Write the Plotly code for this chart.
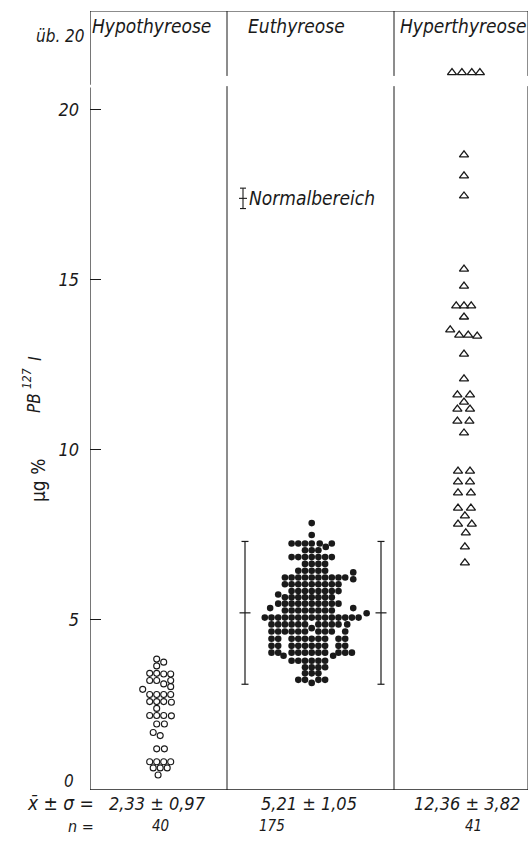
import plotly.graph_objects as go

# ---------------- data ----------------
groups = ["Hypothyreose", "Euthyreose", "Hyperthyreose"]
means = [2.33, 5.21, 12.36]
sds = [0.97, 1.05, 3.82]
stat_labels = ["2,33 \u00b1 0,97", "5,21 \u00b1 1,05", "12,36 \u00b1 3,82"]
n_labels = ["40", "175", "41"]
y_tick_vals = [5, 10, 15, 20]
y_tick_text = ["5", "10", "15", "20"]
zero_label = "0"
over20_label = "\u00fcb. 20"
over20_pos = 21.1          # plotting position of the "über 20" values
normal_range = [17.1, 17.7]
y_title_unit = "\u00b5g %"
y_title_parts = ["PB", "127", "I"]

# Hypothyreose (open circles): values and horizontal grid offsets
hypo_vals = [3.85, 3.76, 3.65, 3.43, 3.43, 3.41, 3.41, 3.22, 3.22, 3.12,
             3.22, 3.04, 2.96, 2.81, 2.81, 2.81, 2.81, 2.60, 2.60, 2.60,
             2.58, 2.40, 2.19, 2.19, 2.19, 2.18, 1.94, 1.94, 1.69, 1.60,
             1.21, 1.21, 0.83, 0.83, 0.83, 0.83, 0.65, 0.65, 0.65, 0.44]
hypo_off = [-0.5, 0.5, -0.5, -1.5, -0.5, 0.5, 1.5, -1.5, -0.5, 0.5,
            1.5, 1.5, -2.5, -1.5, -0.5, 0.5, 1.5, -1.5, -0.5, 0.5,
            1.6, -0.5, -1.5, -0.5, 0.5, 1.6, -0.5, 0.6, -1.0, 0.0,
            -0.5, 0.6, -1.5, -0.5, 0.5, 1.5, -1.0, 0.0, 1.0, -0.3]

# Euthyreose (filled dots): row values and grid offsets within each row
eu_row_vals = [7.85, 7.5, 7.25, 7.15, 7.05, 6.85, 6.65, 6.45, 6.4, 6.25,
               6.2, 6.05, 5.85, 5.75, 5.67, 5.48, 5.35, 5.28, 5.2, 5.07,
               4.87, 4.76, 4.66, 4.45, 4.24, 4.04, 3.95, 3.80, 3.61, 3.43,
               3.24, 3.15]
eu_row_offs = [
    [0], [0], [-3, -2, -1, 0, 1.2, 3], [2.1], [-1, 0, 1],
    [-3, -2, -1, 0, 1, 2, 3], [-1, 0, 1, 2], [-2, -1, 0, 1, 2], [6.2],
    [-4, -3, -2, -1, 0, 1, 2, 3, 4, 5], [6.2],
    [-4, -3, -2, -1, 0, 1, 2, 3, 4], [-3, -2, -1, 0, 1, 2, 3, 4], [-5],
    [-4, -3, -2, -1, 0, 1, 2, 3], [-5, -4, -3, -2, -1, 0, 1, 2, 3, 4],
    [-6.2, 6.2], [-4, -3, -2, -1, 0, 1, 2, 3], [8.2],
    [-7, -6, -5, -4, -3, -2, -1, 0, 1, 2, 3, 4, 5, 6, 7],
    [-6, -5, -4, -3, -2, -1, 1, 2, 3, 4, 5.3], [0],
    [-6, -5, -4, -3, -2, -1, 1, 2, 3, 5],
    [-6, -5, -3, -2, -1, 0, 1, 2, 4, 5],
    [-6, -5, -3, -2, -1, 0, 1, 2, 4, 5],
    [-6, -5, -3, -2, -1, 0, 1, 2, 4, 5, 6], [-4.2, 3.2],
    [-3, -2, -1, 0, 1, 2], [-1, 0, 1, 2], [-1, 0, 1], [-2, -1, 1, 2], [0]]

# Hyperthyreose (open triangles): values and horizontal offsets
hyper_vals = [over20_pos] * 4 + [18.68, 18.06, 17.47, 15.32, 14.82,
              14.24, 14.24, 14.24, 13.91, 13.53, 13.38, 13.38, 13.35,
              12.82, 12.09, 11.62, 11.62, 11.41, 11.2, 11.2, 10.85, 10.85,
              10.5, 9.38, 9.38, 9.06, 9.06, 8.74, 8.74, 8.29, 8.29, 8.06,
              7.82, 7.82, 7.56, 7.15, 6.68]
hyper_off = [-2.0, -0.35, 1.3, 2.65, 0, 0, 0, 0, 0,
             -1.3, 0, 1.2, 0, -2.3, -0.8, 0.7, 2.2,
             0, 0, -1.1, 1.0, 0, -1.1, 1.0, -1.1, 0.9,
             0, -1, 1, -1, 1, -1, 1.15, -1, 1.15, 0.15,
             -1, 1.3, 0.3, 0.15, 0.15]

# ---------------- layout constants (pixel-based x axis) ----------------
W, H = 530, 843
L, R, T, B = 90, 2, 11, 53
PW = W - L - R
PH = H - T - B
YMAX = 22.91
col_edges = [137, 304]
centers = [70.2, 221.7, 374.0]
steps = [7.0, 6.7, 6.0]
INK = "#1a1a1a"
FONT = "Liberation Sans Narrow, DejaVu Sans Condensed, Liberation Sans, sans-serif"

fig = go.Figure()

fig.add_trace(go.Scatter(
    x=[centers[0] + o * steps[0] for o in hypo_off], y=hypo_vals,
    mode="markers", cliponaxis=False, hoverinfo="skip",
    marker=dict(symbol="circle-open", size=6, color=INK, line=dict(width=1.1, color=INK))))

eu_x, eu_y = [], []
for v, offs in zip(eu_row_vals, eu_row_offs):
    for o in offs:
        eu_x.append(centers[1] + o * steps[1])
        eu_y.append(v)
fig.add_trace(go.Scatter(
    x=eu_x, y=eu_y, mode="markers", cliponaxis=False, hoverinfo="skip",
    marker=dict(symbol="circle", size=6.6, color=INK, line=dict(width=0))))

fig.add_trace(go.Scatter(
    x=[centers[2] + o * steps[2] for o in hyper_off], y=hyper_vals,
    mode="markers", cliponaxis=False, hoverinfo="skip",
    marker=dict(symbol="triangle-up-open", size=8, color=INK, line=dict(width=1.3, color=INK))))

shapes = []
def seg(x0, y0, x1, y1, w=1.0, color=INK):
    shapes.append(dict(type="line", xref="x", yref="y", x0=x0, y0=y0, x1=x1, y1=y1,
                       line=dict(color=color, width=w)))

# frame and column dividers with the axis break
GAP = (20.7, 21.0)
for xv in [0] + col_edges + [PW]:
    g0 = 20.66 if xv == 0 else GAP[0]
    g1 = 20.74 if xv == 0 else GAP[1]
    seg(xv, 0, xv, g0, 1.2 if xv == 0 else 1.0)
    seg(xv, g1, xv, YMAX, 1.2 if xv == 0 else 1.0)
seg(0, 0, PW, 0, 1.3)
seg(0, YMAX, PW, YMAX, 1.0)

# mean ± 2 sd bars for Euthyreose (both sides)
m, s = means[1], sds[1]
for xb in [155, 291]:
    seg(xb, m - 2 * s, xb, m + 2 * s, 1.2)
    seg(xb - 3.5, m - 2 * s, xb + 3.5, m - 2 * s, 1.2)
    seg(xb - 3.5, m + 2 * s, xb + 3.5, m + 2 * s, 1.2)
    seg(xb - 5.5, m, xb + 5.5, m, 1.2)

# Normalbereich legend glyph
nb_x = 153
seg(nb_x, normal_range[0], nb_x, normal_range[1], 1.1)
seg(nb_x - 3, normal_range[0], nb_x + 3, normal_range[0], 1.1)
seg(nb_x - 3, normal_range[1], nb_x + 3, normal_range[1], 1.1)
seg(nb_x - 4, sum(normal_range) / 2, nb_x + 4, sum(normal_range) / 2, 1.1)

ann = []
def text(x, y, t, size=16, xanchor="center", xref="x", yref="y", italic=True, angle=0):
    ann.append(dict(x=x, y=y, xref=xref, yref=yref, text=t, showarrow=False,
                    xanchor=xanchor, yanchor="middle", textangle=angle,
                    font=dict(family=FONT, size=size, color=INK,
                              style="italic" if italic else "normal")))

def py(pix):
    return (H - B - pix) / PH  # paper y from pixel y

def px(pix):
    return (pix - L) / PW      # paper x from pixel x

hdr_x = [61, 206, 373]
for g, hx in zip(groups, hdr_x):
    text(hx, py(26), g, size=19, yref="paper")
text(px(60), py(36), over20_label, size=17, xref="paper", yref="paper")
text(px(76), py(781), zero_label, size=17, xanchor="right", xref="paper", yref="paper")
text(157, 17.4, "Normalbereich", size=19, xanchor="left")

text(px(96), py(803), "x\u0304 \u00b1 \u03c3 =", size=19, xanchor="right", xref="paper", yref="paper")
text(px(96), py(826), "n =", size=16, xanchor="right", xref="paper", yref="paper")
stat_x = [67, 219, 377]
n_x = [70, 182, 383]
for sx, st in zip(stat_x, stat_labels):
    text(sx, py(803), st, size=18, yref="paper")
for nx, nt in zip(n_x, n_labels):
    text(nx, py(826), nt, size=15, yref="paper")

# y axis title (unit, then substance with isotope superscript)
text(px(38), py(481), y_title_unit, size=19, angle=-90, italic=False, xref="paper", yref="paper")
title_pos = [(34, 403, 17), (27, 379, 12), (34, 359, 18)]
for part, (tx, ty, ts) in zip(y_title_parts, title_pos):
    text(px(tx), py(ty), part, size=ts, angle=-90, italic=True, xref="paper", yref="paper")

fig.update_layout(
    width=W, height=H, margin=dict(l=L, r=R, t=T, b=B),
    paper_bgcolor="white", plot_bgcolor="white", showlegend=False,
    shapes=shapes, annotations=ann,
    xaxis=dict(range=[0, PW], visible=False, fixedrange=True),
    yaxis=dict(range=[0, YMAX], tickvals=y_tick_vals, ticktext=y_tick_text,
               ticks="inside", ticklen=11, tickwidth=1.2, tickcolor=INK,
               showgrid=False, zeroline=False, showline=False,
               ticklabelstandoff=10,
               tickfont=dict(family=FONT, size=18, color=INK, style="italic")),
)

fig.write_html("out.html")
